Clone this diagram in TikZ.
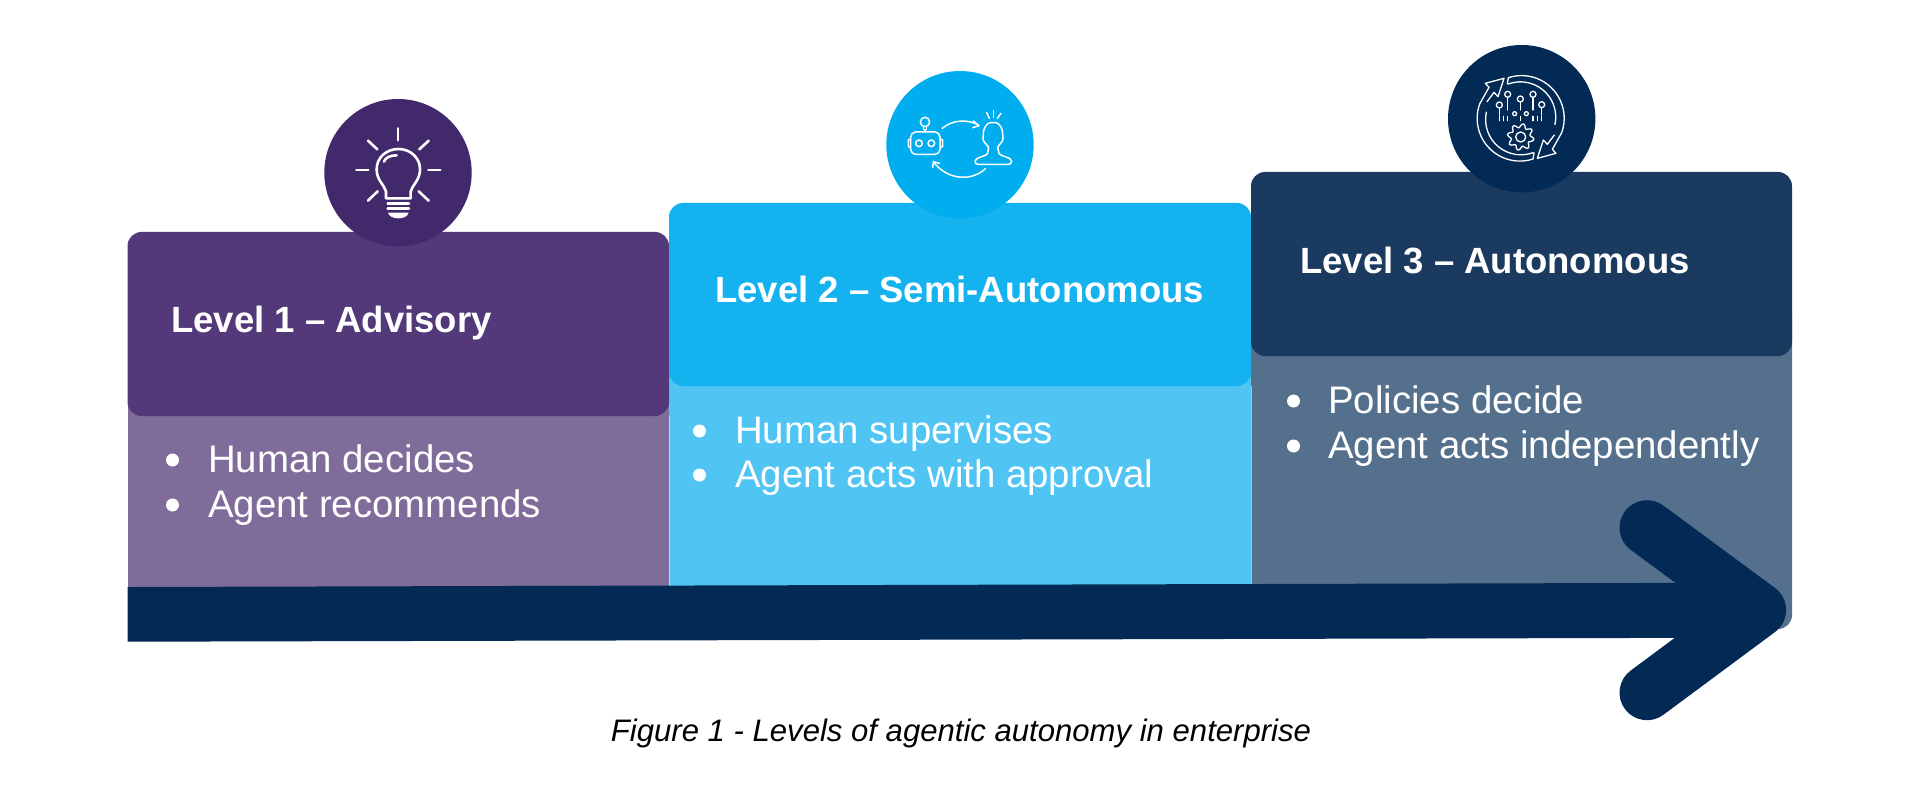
\documentclass[tikz,border=0pt]{standalone}
\usepackage{fontspec}
\setmainfont{Liberation Sans}
\usetikzlibrary{arrows.meta,positioning,calc}
\definecolor{plumhead}{HTML}{53397A}
\definecolor{plumbody}{HTML}{7F6C9A}
\definecolor{plumdisc}{HTML}{42296B}
\definecolor{skyhead}{HTML}{14B2EF}
\definecolor{skybody}{HTML}{50C5F4}
\definecolor{skydisc}{HTML}{00AEEF}
\definecolor{navyhead}{HTML}{1B3A60}
\definecolor{navybody}{HTML}{55708C}
\definecolor{navydisc}{HTML}{022A54}
\tikzset{
    headtext/.style={anchor=base west,inner sep=0pt,text=white,font=\fontsize{36.5}{42}\selectfont\bfseries},
    listtext/.style={anchor=base west,inner sep=0pt,text=white,font=\fontsize{38.4}{44}\selectfont},
    listdot/.style={circle,fill=white,inner sep=0pt,minimum size=13pt},
    icondisc/.style={circle,inner sep=0pt,minimum size=147.4pt},
    iconline/.style={draw=white,line width=1.5pt,line cap=round,line join=round}
}
\begin{document}
\begin{tikzpicture}[x=1pt,y=-1pt]
    \useasboundingbox (0,0) rectangle (1917,794);

    % Lower panels
    \fill[plumbody] (127.5,300) rectangle (669,600);
    \fill[skybody] (669,300) rectangle (1251,600);
    \fill[navybody,rounded corners=14pt] (1251,300) -- (1792,300) -- (1792,629) -- (1700,629) -- (1700,600) -- (1251,600) -- cycle;
    \draw[white,opacity=.55,line width=.8pt] (669,416) -- (669,590);
    \draw[white,opacity=.55,line width=.8pt] (1251,386) -- (1251,590);

    % Upper panels
    \foreach \xa/\xb/\ya/\yb/\col in {127.5/669/232/416/plumhead,669/1251/203/386/skyhead,1251/1792/172/356/navyhead} {
        \fill[\col,rounded corners=14pt] (\xa,\ya) rectangle (\xb,\yb);
    }

    % Titles
    \node[headtext] (title1) at (171,333) {Level 1 – Advisory};
    \node[headtext] (title2) at (715,303) {Level 2 – Semi-Autonomous};
    \node[headtext] (title3) at (1300,274) {Level 3 – Autonomous};

    % Bullet lists
    \foreach \n/\xd/\xt/\yt/\txt in {
        a/172.5/208/472/Human decides,b/172.5/208/517/Agent recommends,
        c/699.5/735/443/Human supervises,d/699.5/735/487/Agent acts with approval,
        e/1293.5/1328/413/Policies decide,f/1293.5/1328/458/Agent acts independently} {
        \node[listtext] (item\n) at (\xt,\yt) {\txt};
        \node[listdot] (dot\n) at (\xd,\yt-12) {};
    }

    % Big arrow
    \fill[navydisc] (127.5,587) -- (1750,582.7) -- (1750,637.7) -- (127.5,641.7) -- cycle;
    \draw[navydisc,line width=55pt,line cap=round,line join=round] (1647,527.7) -- (1758.5,610) -- (1647,692.7);

    % Discs
    \node[icondisc,fill=plumdisc] (disc1) at (398,172.7) {};
    \node[icondisc,fill=skydisc] (disc2) at (960,144.7) {};
    \node[icondisc,fill=navydisc] (disc3) at (1521.7,118.7) {};

    % Bulb icon
    \begin{scope}[shift={(300,80)},scale=1/3,iconline,line width=2.6pt]
        \foreach \xa/\ya/\xb/\yb in {294/145/294/181,169/270/205/270,385/270/421/270,204/182/232/208,386/182/358/208,204/362/233/334,386/362/356/334} {
            \draw (\xa,\ya) -- (\xb,\yb);
        }
        \draw (258,355) -- (258,335) .. controls (250,310) and (230,300) .. (230,268)
            .. controls (230,232) and (260,207) .. (295,207)
            .. controls (330,207) and (360,232) .. (360,268)
            .. controls (360,300) and (340,310) .. (332,335) -- (332,355) -- cycle;
        \draw (263,370) -- (327,370);
        \draw (263,385) -- (327,385);
        \fill[white] (264,398) -- (326,398) .. controls (322,410) and (310,415) .. (295,415) .. controls (280,415) and (268,410) .. (264,398) -- cycle;
        \draw (252,245) .. controls (256,233) and (270,226) .. (290,226);
    \end{scope}

    % Robot and person icon
    \begin{scope}[shift={(870,60)},scale=1/3,iconline,line width=1.5pt]
        \draw (165,186) circle (14);
        \draw (160,200) -- (160,208) -- (170,208) -- (170,200);
        \draw (165,208) -- (165,216);
        \draw[rounded corners=5pt] (122,216) rectangle (210,283);
        \draw (147,250) circle (10);
        \draw (184,250) circle (10);
        \draw (122,238) -- (115,240) -- (115,260) -- (122,262);
        \draw (210,238) -- (218,240) -- (218,260) -- (210,262);
        \draw (217,205) .. controls (245,180) and (295,175) .. (327,197);
        \draw (310,183) -- (327,197) -- (308,203);
        \draw (346,326) .. controls (310,362) and (235,365) .. (190,305);
        \draw (188,322) -- (190,305) -- (208,310);
        \draw[rounded corners=3pt] (315,313) .. controls (315,290) and (350,290) .. (355,272)
            .. controls (356,258) and (338,245) .. (340,228)
            .. controls (340,205) and (352,188) .. (369,188)
            .. controls (386,188) and (398,205) .. (398,228)
            .. controls (400,245) and (382,258) .. (385,272)
            .. controls (390,290) and (425,290) .. (425,313) -- cycle;
        \draw (350,158) -- (358,175);
        \draw (371,152) -- (371,172);
        \draw (393,160) -- (382,175);
    \end{scope}

    % Cycle icon
    \begin{scope}[shift={(1430,10)},scale=1/3,iconline,line width=1.3pt]
        \foreach \rot in {0,180} {
            \begin{scope}[rotate around={\rot:(272,325)}]
                \draw (232,222) -- (235,203) arc (-108:20:128) -- (367,418) -- (378,430) -- (322,445) -- (340,390) -- (352,403) -- (373,375);
                \draw (235,222) arc (-110:12:106);
            \end{scope}
        }
        \foreach \xc/\yc/\ye in {208/285/315,233/253/300,271/267/300,309/253/300,335/284/315} {
            \draw (\xc,\yc) circle (9);
            \draw (\xc,\yc+9) -- (\xc,\ye);
        }
        \draw (254,311) circle (6);
        \draw (289,311) circle (6);
        \foreach \xt in {208,220,233,271,309,322,335} {
            \draw (\xt,319) -- (\xt,332);
        }
        \draw plot[smooth cycle,samples=72,domain=0:355] ({272+(34+6*sin(8*\x))*cos(\x)},{381+(34+6*sin(8*\x))*sin(\x)});
        \draw (272,381) circle (15);
    \end{scope}

    % Caption
    \node[anchor=base,inner sep=0pt,font=\fontsize{31.1}{36}\selectfont\itshape] (caption) at (961,741) {Figure 1 - Levels of agentic autonomy in enterprise};
\end{tikzpicture}
\end{document}
